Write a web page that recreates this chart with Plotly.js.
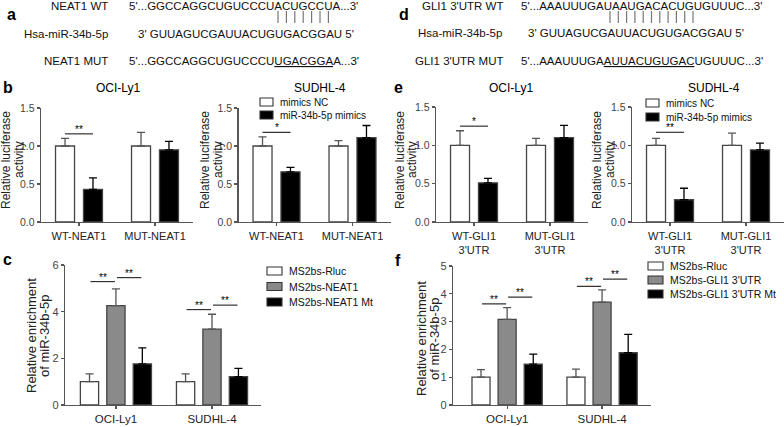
<!DOCTYPE html>
<html>
<head>
<meta charset="utf-8">
<script src="https://cdn.plot.ly/plotly-3.0.1.min.js"></script>
<style>
  html, body { margin: 0; padding: 0; background: #fff; }
  #chart { width: 784px; height: 427px; }
</style>
</head>
<body>
<div id="chart"></div>
<script>
// ---- data ----
// b / e : dual luciferase (mean and upper SD)
const neatCats = ['WT-NEAT1', 'MUT-NEAT1'];
const gliCats = ["WT-GLI1<br>3'UTR", "MUT-GLI1<br>3'UTR"];
const lucNames = ['mimics NC', 'miR-34b-5p mimics'];

const bOciNC = [1.0, 1.0],   bOciNCErr = [0.10, 0.18];
const bOciMim = [0.43, 0.95], bOciMimErr = [0.15, 0.11];
const bSudNC = [1.0, 1.0],   bSudNCErr = [0.12, 0.07];
const bSudMim = [0.66, 1.11], bSudMimErr = [0.06, 0.16];

const eOciNC = [1.0, 1.0],   eOciNCErr = [0.19, 0.09];
const eOciMim = [0.51, 1.10], eOciMimErr = [0.06, 0.16];
const eSudNC = [1.0, 1.0],   eSudNCErr = [0.09, 0.16];
const eSudMim = [0.29, 0.94], eSudMimErr = [0.15, 0.09];

const lucSigY = [1.16, 1.18, 1.25, 1.17];
const lucSigText = ['**', '*', '*', '**'];

// c / f : MS2-RIP enrichment
const ripCats = ['OCI-Ly1', 'SUDHL-4'];
const cNames = ['MS2bs-Rluc', 'MS2bs-NEAT1', 'MS2bs-NEAT1 Mt'];
const fNames = ['MS2bs-Rluc', "MS2bs-GLI1 3'UTR", "MS2bs-GLI1 3'UTR Mt"];

const cRluc = [1.0, 1.0],   cRlucErr = [0.33, 0.33];
const cNeat = [4.26, 3.25], cNeatErr = [0.72, 0.64];
const cMt = [1.76, 1.22],   cMtErr = [0.69, 0.35];

const fRluc = [1.0, 1.0],   fRlucErr = [0.27, 0.29];
const fGli = [3.08, 3.70],  fGliErr = [0.42, 0.44];
const fMt = [1.47, 1.88],   fMtErr = [0.36, 0.66];

const cSigY = [[5.29, 5.46], [4.09, 4.28]];
const fSigY = [[3.64, 3.88], [4.27, 4.53]];

const fills3 = ['#ffffff', '#8a8a8a', '#000000'];
const fills2 = ['#ffffff', '#000000'];

// ---- helpers ----
const W = 784, H = 427;
const px = v => v / W;
const py = v => 1 - v / H;
const FONT = 'Liberation Sans, Arial, sans-serif';
const AX = '#555';

const traces = [];
const shapes = [];
const annotations = [];

function note(text, x, y, opts) {
  annotations.push(Object.assign({
    text: text, x: px(x), y: py(y), xref: 'paper', yref: 'paper',
    showarrow: false, xanchor: 'center', yanchor: 'middle',
    font: { family: FONT, size: 12, color: '#000' }
  }, opts || {}));
}

function bar(xa, ya, cats, y, err, fill, width, offset) {
  traces.push({
    type: 'bar', x: cats, y: y, xaxis: xa, yaxis: ya,
    width: width, offset: offset, showlegend: false,
    marker: { color: fill, line: { color: '#444', width: 1.3 } },
    error_y: {
      type: 'data', symmetric: false, array: err, arrayminus: err.map(() => 0),
      color: fill === '#000000' ? '#000' : '#555', thickness: 1.3, width: 4
    },
    hoverinfo: 'x+y'
  });
}

// pair panels: bar width 0.25, centers at +-0.184
const pw = 0.25, pc = 0.184;
function pairPanel(n, cats, nc, ncErr, mim, mimErr) {
  const xa = 'x' + (n === 1 ? '' : n), ya = 'y' + (n === 1 ? '' : n);
  bar(xa, ya, cats, nc, ncErr, fills2[0], pw, -pc - pw / 2);
  bar(xa, ya, cats, mim, mimErr, fills2[1], pw, pc - pw / 2);
  shapes.push({ type: 'line', xref: xa, yref: ya, x0: -pc, x1: pc,
    y0: lucSigY[n - 1], y1: lucSigY[n - 1], line: { color: '#333', width: 1.2 } });
  annotations.push({ text: lucSigText[n - 1], xref: xa, yref: ya, x: 0, y: lucSigY[n - 1],
    yanchor: 'bottom', showarrow: false, yshift: -3,
    font: { family: FONT, size: 10, color: '#000' } });
}
pairPanel(1, neatCats, bOciNC, bOciNCErr, bOciMim, bOciMimErr);
pairPanel(2, neatCats, bSudNC, bSudNCErr, bSudMim, bSudMimErr);
pairPanel(3, gliCats, eOciNC, eOciNCErr, eOciMim, eOciMimErr);
pairPanel(4, gliCats, eSudNC, eSudNCErr, eSudMim, eSudMimErr);

// triple panels: bar width 0.19, pitch 0.275
const tw = 0.19, tp = 0.275;
function triplePanel(n, series, sigY) {
  const xa = 'x' + n, ya = 'y' + n;
  series.forEach((s, i) => bar(xa, ya, ripCats, s[0], s[1], fills3[i], tw, (i - 1) * tp - tw / 2));
  sigY.forEach((pair, k) => {
    pair.forEach((yv, j) => {
      const a = k + (j - 1) * tp + 0.01, b = k + j * tp - 0.01;
      shapes.push({ type: 'line', xref: xa, yref: ya, x0: a, x1: b, y0: yv, y1: yv,
        line: { color: '#333', width: 1.2 } });
      annotations.push({ text: '**', xref: xa, yref: ya, x: (a + b) / 2, y: yv,
        yanchor: 'bottom', showarrow: false, yshift: -3,
        font: { family: FONT, size: 10, color: '#000' } });
    });
  });
}
triplePanel(5, [[cRluc, cRlucErr], [cNeat, cNeatErr], [cMt, cMtErr]], cSigY);
triplePanel(6, [[fRluc, fRlucErr], [fGli, fGliErr], [fMt, fMtErr]], fSigY);

// ---- axes ----
function xAxis(d0, d1, range, anchor, size, len) {
  return { domain: [px(d0), px(d1)], range: range, anchor: anchor, type: 'category',
    showline: true, linecolor: AX, linewidth: 1.3, ticks: 'outside', ticklen: len || 4,
    tickcolor: AX, tickwidth: 1.2, showgrid: false, zeroline: false, fixedrange: true,
    tickfont: { family: FONT, size: size, color: '#222' } };
}
function yAxis(top, bottom, range, dtick, fmt, anchor, size) {
  return { domain: [py(bottom), py(top)], range: range, anchor: anchor,
    showline: true, linecolor: AX, linewidth: 1.3, ticks: 'outside', ticklen: 3,
    tickcolor: AX, tickwidth: 1.2, showgrid: false, zeroline: false, fixedrange: true,
    dtick: dtick, tick0: 0, tickformat: fmt,
    tickfont: { family: FONT, size: size, color: '#444' } };
}

// ---- panel text ----
const letters = [['a', 11, 14], ['b', 8, 87], ['c', 8, 259], ['d', 404, 14], ['e', 398, 87], ['f', 398, 260]];
letters.forEach(l => note(l[0], l[1], l[2], { font: { family: FONT, size: 16, color: '#000', weight: 'bold' } }));

const seqFont = { family: FONT, size: 11.5, color: '#111' };
// a
note('NEAT1 WT', 110, 6, { xanchor: 'right', font: seqFont });
note("5'...GGCCAGGCUGUCCCUACUGCCUA...3'", 127, 6, { xanchor: 'left', font: seqFont });
note('Hsa-miR-34b-5p', 110, 34, { xanchor: 'right', font: seqFont });
note("3' GUUAGUCGAUUACUGUGACGGAU 5'", 136, 34, { xanchor: 'left', font: seqFont });
note('NEAT1 MUT', 110, 61, { xanchor: 'right', font: seqFont });
note("5'...GGCCAGGCUGUCCCU<u>UGACGGA</u>A...3'", 127, 61, { xanchor: 'left', font: seqFont });
// d
note("GLI1 3'UTR WT", 505, 6, { xanchor: 'right', font: seqFont });
note("5'...AAAUUUGAUAAUGACACUGUGUUUC...3'", 519, 6, { xanchor: 'left', font: seqFont });
note('Hsa-miR-34b-5p', 504, 33, { xanchor: 'right', font: seqFont });
note("3' GUUAGUCGAUUACUGUGACGGAU 5'", 526, 33, { xanchor: 'left', font: seqFont });
note("GLI1 3'UTR MUT", 505, 61, { xanchor: 'right', font: seqFont });
note("5'...AAAUUUGA<u>AUUACUGUGAC</u>UGUUUC...3'", 519, 61, { xanchor: 'left', font: seqFont });

// base-pairing ticks
function pairing(x0, pitch, count) {
  for (let i = 0; i < count; i++) {
    shapes.push({ type: 'line', xref: 'paper', yref: 'paper',
      x0: px(x0 + i * pitch), x1: px(x0 + i * pitch), y0: py(11), y1: py(23),
      line: { color: '#777', width: 1.2 } });
  }
}
pairing(278, 8.4, 7);
pairing(610, 8.3, 11);

// subplot titles
note('OCI-Ly1', 118, 88);
note('SUDHL-4', 320, 88);
note('OCI-Ly1', 512, 88);
note('SUDHL-4', 714, 88);

// y titles (two lines each)
const yt = { family: FONT, size: 12, color: '#222' };
[[6, 19, 160], [205, 218, 160], [400, 412, 160], [597, 610, 160]].forEach(p => {
  note('Relative luciferase', p[0], p[2], { textangle: -90, font: yt });
  note('activity', p[1], p[2], { textangle: -90, font: yt });
});
const yt2 = { family: FONT, size: 13, color: '#222' };
note('Relative enrichment', 31, 336, { textangle: -90, font: yt2 });
note('of miR-34b-5p', 44, 336, { textangle: -90, font: yt2 });
note('Relative enrichment', 421, 339, { textangle: -90, font: yt2 });
note('of miR-34b-5p', 434, 339, { textangle: -90, font: yt2 });

// custom legends
function legendBox(x, y0, gap, names, fills, size, bw) {
  names.forEach((nm, i) => {
    const y = y0 + i * gap;
    shapes.push({ type: 'rect', xref: 'paper', yref: 'paper',
      x0: px(x), x1: px(x + bw), y0: py(y - 4), y1: py(y + 4),
      fillcolor: fills[i], line: { color: '#333', width: 1.1 } });
    note(nm, x + bw + 5, y, { xanchor: 'left', font: { family: FONT, size: size, color: '#111' } });
  });
}
legendBox(260, 102, 13, lucNames, fills2, 10, 13);
legendBox(646, 103, 14, lucNames, fills2, 10, 13);
legendBox(267, 271, 15.5, cNames, fills3, 10.5, 15);
legendBox(648, 266, 14, fNames, fills3, 10.5, 15);

const layout = {
  width: W, height: H, margin: { l: 0, r: 0, t: 0, b: 0 },
  paper_bgcolor: '#fff', plot_bgcolor: 'rgba(0,0,0,0)',
  barmode: 'overlay', showlegend: false,
  font: { family: FONT, color: '#222' },
  xaxis: xAxis(41, 193, [-0.5, 1.5], 'y', 11, 3),
  yaxis: yAxis(108, 222, [0, 1.5], 0.5, '.1f', 'x', 10.5),
  xaxis2: xAxis(238.5, 390.5, [-0.5, 1.5], 'y2', 11, 3),
  yaxis2: yAxis(108, 222, [0, 1.5], 0.5, '.1f', 'x2', 10.5),
  xaxis3: xAxis(436, 588, [-0.5, 1.5], 'y3', 11, 3),
  yaxis3: yAxis(107, 222, [0, 1.5], 0.5, '.1f', 'x3', 10.5),
  xaxis4: xAxis(632, 784, [-0.5, 1.5], 'y4', 11, 3),
  yaxis4: yAxis(107, 222, [0, 1.5], 0.5, '.1f', 'x4', 10.5),
  xaxis5: xAxis(65, 261, [-0.53, 1.51], 'y5', 11.5, 3),
  yaxis5: yAxis(265, 405, [0, 6], 2, 'd', 'x5', 11),
  xaxis6: xAxis(453, 650.5, [-0.57, 1.51], 'y6', 11.5, 3),
  yaxis6: yAxis(266, 405, [0, 5], 1, 'd', 'x6', 11),
  shapes: shapes,
  annotations: annotations
};

Plotly.newPlot('chart', traces, layout, { displayModeBar: false, staticPlot: true });
</script>
</body>
</html>
